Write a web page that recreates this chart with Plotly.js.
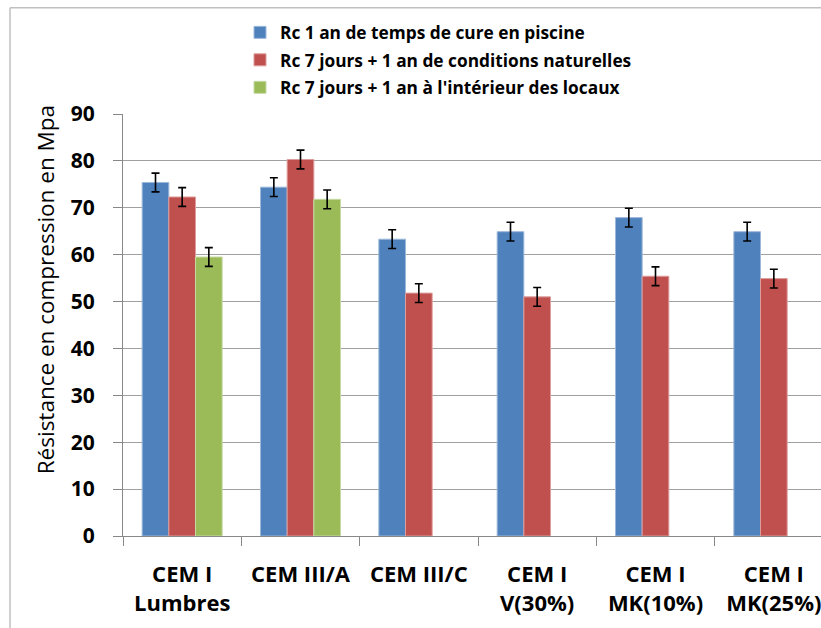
<!DOCTYPE html>
<html>
<head>
<meta charset="utf-8">
<script src="https://cdn.plot.ly/plotly-3.0.1.min.js"></script>
<style>html,body{margin:0;padding:0;background:#fff;}#chart{width:821px;height:628px;}</style>
</head>
<body>
<div id="chart"></div>
<script>
var categories = ["CEM I<br>Lumbres", "CEM III/A", "CEM III/C", "CEM I<br>V(30%)", "CEM I<br>MK(10%)", "CEM I<br>MK(25%)"];
var seriesNames = ["Rc 1 an de temps de cure en piscine", "Rc 7 jours + 1 an de conditions naturelles", "Rc 7 jours + 1 an à l'intérieur des locaux"];
var piscine = [75.4, 74.4, 63.3, 64.9, 67.9, 64.9];
var naturelles = [72.3, 80.3, 51.8, 51.0, 55.4, 54.9];
var interieur = [59.5, 71.8, null, null, null, null];
var errPiscine = [2, 2, 2, 2, 2, 2];
var errNaturelles = [2, 2, 2, 2, 2, 2];
var errInterieur = [2, 2, 2, 2, 2, 2];
var yTicks = [0, 10, 20, 30, 40, 50, 60, 70, 80, 90];

var colors = ["#4F81BD", "#C0504D", "#9BBB59"];
var edge = ["#9db8d9", "#dc9d9b", "#c6d9a3"];
var values = [piscine, naturelles, interieur];
var errs = [errPiscine, errNaturelles, errInterieur];

var L = 123, T = 113.5, B = 536, W = 821, H = 628;
var pw = W - L, ph = B - T;
function px2x(p){ return (p - L) / pw; }
function px2y(p){ return (B - p) / ph; }

var traces = values.map(function(v, i){
  return {
    type: "bar", x: categories, y: v, name: seriesNames[i],
    legendgroup: "g" + i,
    marker: {color: colors[i], line: {color: edge[i], width: 1}},
    error_y: {type: "data", array: errs[i], visible: true, color: "#000", thickness: 1.6, width: 4},
    hoverinfo: "none"
  };
});

var layout = {
  width: W, height: H,
  margin: {l: L, r: 0, t: T, b: H - B, pad: 0},
  paper_bgcolor: "#fff", plot_bgcolor: "#fff",
  font: {family: "'Open Sans', Lato, sans-serif", color: "#000"},
  barmode: "group", bargap: 0.324, bargroupgap: 0,
  showlegend: true,
  legend: {
    x: px2x(240), y: px2y(14), xanchor: "left", yanchor: "top",
    font: {size: 17.3, weight: "bold", family: "'Open Sans', sans-serif"},
    traceorder: "grouped", tracegroupgap: 2,
    bgcolor: "rgba(0,0,0,0)"
  },
  xaxis: {
    type: "category", range: [-0.5, 5.5 - 12/118.3],
    tickson: "boundaries", ticks: "outside", ticklen: 9, tickcolor: "#888", tickwidth: 1,
    showline: true, linecolor: "#888", linewidth: 1,
    showgrid: false, zeroline: false,
    tickfont: {size: 22, weight: "bold"},
    ticklabelstandoff: 19, tickangle: 0
  },
  yaxis: {
    range: [0, 90], tickvals: yTicks, ticktext: yTicks.map(String),
    ticks: "outside", ticklen: 9, tickcolor: "#888", tickwidth: 1,
    showline: true, linecolor: "#888", linewidth: 1,
    showgrid: true, gridcolor: "#a0a0a0", gridwidth: 1, zeroline: false,
    tickfont: {size: 21, weight: "bold"},
    ticklabelstandoff: 14
  },
  annotations: [{
    text: "Résistance en compression en Mpa", textangle: -90,
    xref: "paper", yref: "paper", x: px2x(45), y: px2y(290),
    xanchor: "center", yanchor: "middle", showarrow: false,
    font: {size: 22.5, color: "#000"}
  }],
  shapes: [
    {type: "line", xref: "paper", yref: "paper", x0: px2x(10), x1: px2x(10), y0: px2y(7), y1: px2y(640), line: {color: "#c0c0c0", width: 1.5}},
    {type: "line", xref: "paper", yref: "paper", x0: px2x(10), x1: px2x(840), y0: px2y(7), y1: px2y(7), line: {color: "#c0c0c0", width: 1.5}}
  ]
};

Plotly.newPlot("chart", traces, layout, {displayModeBar: false, staticPlot: true});
</script>
</body>
</html>
